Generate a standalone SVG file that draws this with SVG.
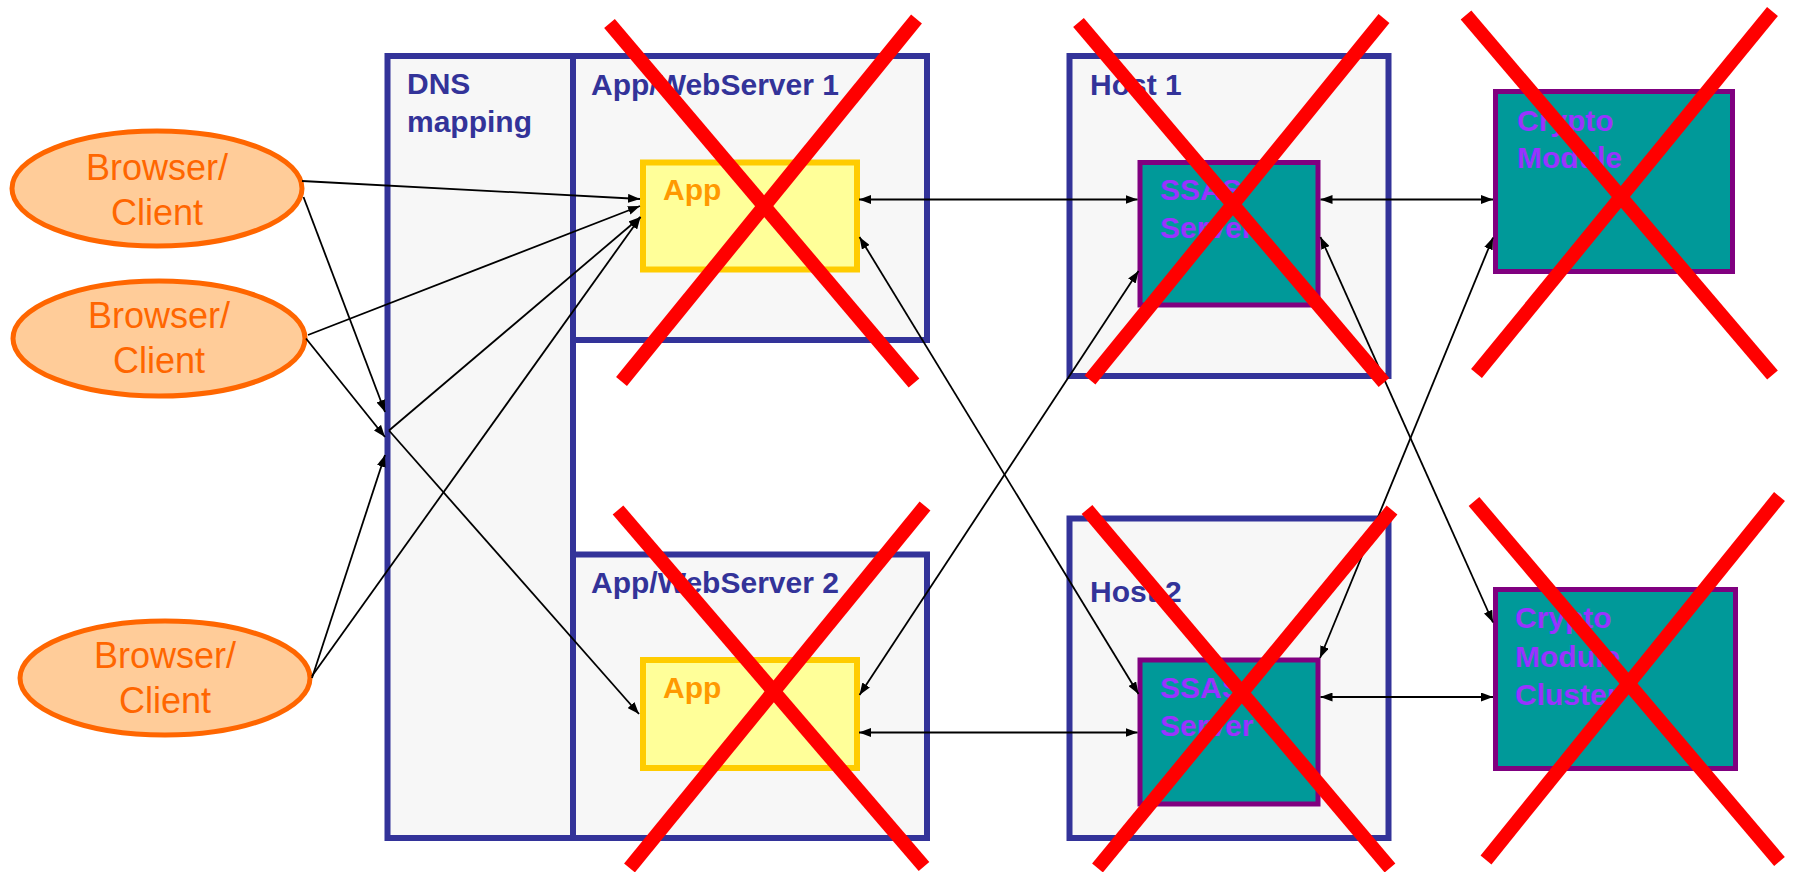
<svg xmlns="http://www.w3.org/2000/svg" width="1793" height="872" viewBox="0 0 1793 872">
  <style>
    .zone { fill: #F7F7F7; stroke: #333399; stroke-width: 6; }
    .zone-title { font-family: "Liberation Sans", Arial, sans-serif; font-size: 30px; font-weight: bold; fill: #333399; }
    .client { fill: #FFCC99; stroke: #FF6600; stroke-width: 5; }
    .client-label { font-family: "Liberation Sans", Arial, sans-serif; font-size: 36px; fill: #FF6600; text-anchor: middle; }
    .app { fill: #FFFF99; stroke: #FFCC00; stroke-width: 6; }
    .app-label { font-family: "Liberation Sans", Arial, sans-serif; font-size: 30px; font-weight: bold; fill: #FF9900; }
    .server { fill: #009999; stroke: #800080; stroke-width: 5; }
    .server-label { font-family: "Liberation Sans", Arial, sans-serif; font-size: 30px; font-weight: bold; fill: #9933FF; }
    .link { fill: none; stroke: #000000; stroke-width: 1.8; }
    .one-way { marker-end: url(#arrow); }
    .two-way { marker-start: url(#arrow); marker-end: url(#arrow); }
    .strike { stroke: #FF0000; stroke-width: 14; stroke-linecap: butt; }
  </style>
  <defs>
    <marker id="arrow" viewBox="0 0 12 9" refX="12" refY="4.5" markerWidth="12" markerHeight="9" markerUnits="userSpaceOnUse" orient="auto-start-reverse">
      <path d="M0,0 L12,4.5 L0,9 z" fill="#000000"/>
    </marker>
  </defs>

  <rect width="1793" height="872" fill="#FFFFFF"/>

  <!-- DNS column and web servers -->
  <g id="dns-mapping">
    <rect class="zone" x="387.5" y="56" width="185.5" height="782"/>
    <text class="zone-title" x="407" y="94">DNS</text>
    <text class="zone-title" x="407" y="132">mapping</text>
  </g>
  <g id="webserver-1">
    <rect class="zone" x="573" y="56" width="354" height="284"/>
    <text class="zone-title" x="591" y="94.5">App/WebServer 1</text>
  </g>
  <g id="webserver-2">
    <rect class="zone" x="573" y="554.5" width="354" height="283.5"/>
    <text class="zone-title" x="591" y="593">App/WebServer 2</text>
  </g>
  <g id="app-1">
    <rect class="app" x="643" y="162.5" width="214" height="107"/>
    <text class="app-label" x="663" y="200">App</text>
  </g>
  <g id="app-2">
    <rect class="app" x="643" y="660" width="214" height="108"/>
    <text class="app-label" x="663" y="698">App</text>
  </g>

  <!-- Hosts -->
  <g id="host-1">
    <rect class="zone" x="1069.5" y="56" width="319" height="320"/>
    <text class="zone-title" x="1090" y="95">Host 1</text>
  </g>
  <g id="host-2">
    <rect class="zone" x="1069.5" y="518.5" width="319" height="319.5"/>
    <text class="zone-title" x="1090" y="602">Host 2</text>
  </g>
  <g id="ssas-server-1">
    <rect class="server" x="1140" y="162.5" width="178" height="142.5"/>
    <text class="server-label" x="1160" y="200">SSAS</text>
    <text class="server-label" x="1160" y="238">Server</text>
  </g>
  <g id="ssas-server-2">
    <rect class="server" x="1140" y="660" width="178" height="144"/>
    <text class="server-label" x="1160" y="698">SSAS</text>
    <text class="server-label" x="1160" y="736">Server</text>
  </g>

  <!-- Crypto modules -->
  <g id="crypto-module">
    <rect class="server" x="1495.5" y="91.5" width="237" height="180"/>
    <text class="server-label" x="1517" y="131">Crypto</text>
    <text class="server-label" x="1517" y="168">Module</text>
  </g>
  <g id="crypto-module-cluster">
    <rect class="server" x="1495.5" y="589.5" width="240" height="179"/>
    <text class="server-label" x="1515" y="628">Crypto</text>
    <text class="server-label" x="1515" y="667">Module</text>
    <text class="server-label" x="1515" y="705">Cluster</text>
  </g>

  <!-- Clients -->
  <g id="client-1">
    <ellipse class="client" cx="157" cy="188.5" rx="145" ry="57.5"/>
    <text class="client-label" x="157" y="180">Browser/</text>
    <text class="client-label" x="157" y="225">Client</text>
  </g>
  <g id="client-2">
    <ellipse class="client" cx="159" cy="338.5" rx="146" ry="57.5"/>
    <text class="client-label" x="159" y="328">Browser/</text>
    <text class="client-label" x="159" y="373">Client</text>
  </g>
  <g id="client-3">
    <ellipse class="client" cx="165" cy="678" rx="145" ry="57"/>
    <text class="client-label" x="165" y="668">Browser/</text>
    <text class="client-label" x="165" y="713">Client</text>
  </g>

  <!-- Connectors -->
  <g id="connectors">
    <line class="link one-way" x1="302" y1="181" x2="640" y2="199"/>
    <line class="link one-way" x1="303.5" y1="197" x2="385" y2="412"/>
    <line class="link one-way" x1="308" y1="335" x2="640" y2="206"/>
    <line class="link one-way" x1="306" y1="338.5" x2="385" y2="437"/>
    <line class="link one-way" x1="389" y1="430.5" x2="640.5" y2="217"/>
    <line class="link one-way" x1="389" y1="430.5" x2="639" y2="714"/>
    <line class="link one-way" x1="312" y1="678" x2="385" y2="455"/>
    <line class="link one-way" x1="312" y1="676" x2="640.5" y2="217"/>

    <line class="link two-way" x1="859" y1="199.5" x2="1137.5" y2="199.5"/>
    <line class="link two-way" x1="859.5" y1="237" x2="1138.5" y2="694"/>
    <line class="link two-way" x1="1138.5" y1="271" x2="859.5" y2="695"/>
    <line class="link two-way" x1="859" y1="732.5" x2="1137.5" y2="732.5"/>
    <line class="link two-way" x1="1320.5" y1="199.5" x2="1493" y2="199.5"/>
    <line class="link two-way" x1="1320.5" y1="237" x2="1493" y2="622.5"/>
    <line class="link two-way" x1="1493" y1="237.5" x2="1320" y2="658"/>
    <line class="link two-way" x1="1320.5" y1="697" x2="1493" y2="697"/>
  </g>

  <!-- Failed components struck through -->
  <g id="failures">
    <line class="strike" x1="609.5" y1="23.5" x2="914" y2="383"/>
    <line class="strike" x1="916.5" y1="19" x2="621.5" y2="381.5"/>
    <line class="strike" x1="618" y1="510" x2="924" y2="866.5"/>
    <line class="strike" x1="925" y1="506" x2="629.5" y2="868"/>
    <line class="strike" x1="1078.5" y1="22.5" x2="1384" y2="382.5"/>
    <line class="strike" x1="1384" y1="18.5" x2="1090" y2="380"/>
    <line class="strike" x1="1087" y1="509.5" x2="1390" y2="868"/>
    <line class="strike" x1="1392" y1="510" x2="1097.5" y2="868"/>
    <line class="strike" x1="1466" y1="15" x2="1772.5" y2="375"/>
    <line class="strike" x1="1772.5" y1="11.5" x2="1476.5" y2="373.5"/>
    <line class="strike" x1="1474" y1="501.5" x2="1779.5" y2="861.5"/>
    <line class="strike" x1="1779.5" y1="496.5" x2="1486" y2="860"/>
  </g>
</svg>
